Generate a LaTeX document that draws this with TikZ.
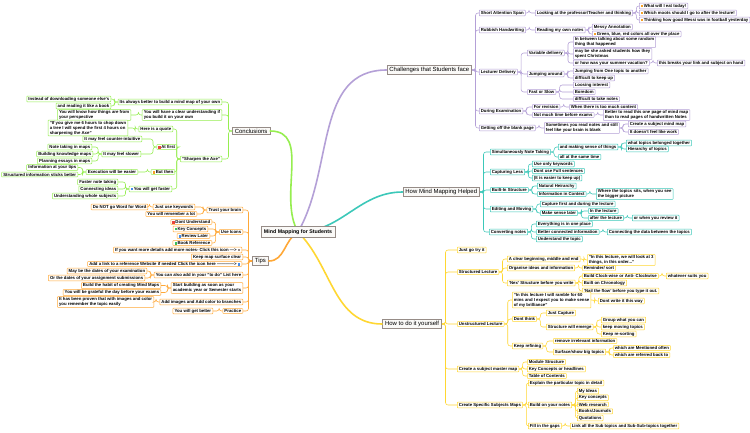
\documentclass[tikz,border=0pt]{standalone}
\usepackage{fontspec}
\setmainfont{Liberation Sans}
\definecolor{purp}{RGB}{180,160,215}
\definecolor{teal2}{RGB}{60,200,185}
\definecolor{yell}{RGB}{255,215,50}
\definecolor{gren}{RGB}{150,238,80}
\definecolor{orng}{RGB}{255,168,55}
\definecolor{mainc}{RGB}{150,140,135}
\definecolor{mainf}{RGB}{250,249,247}
\definecolor{icored}{RGB}{235,70,60}
\definecolor{icoorg}{RGB}{245,160,40}
\definecolor{icoblu}{RGB}{70,140,230}
\definecolor{icogrn}{RGB}{60,190,90}
\newcommand\lc{purp}
\newcommand\ico[1]{\textcolor{#1}{\rule{2.3pt}{2.3pt}}\hspace{0.7pt}}
\newcommand\rlink[2]{\draw[branch] (#1.east) -- ++(3.5,0) |- (#2.west);}
\newcommand\llink[2]{\draw[branch] (#1.west) -- ++(-3.5,0) |- (#2.east);}
\tikzset{
  topic/.style={draw=\lc, fill=white, line width=0.5pt, inner xsep=1.6pt, inner ysep=0.9pt,
    font=\bfseries\fontsize{4.3}{5.1}\selectfont, align=left, rounded corners=0.6pt},
  rb/.style={topic, anchor=west},
  lb/.style={topic, anchor=east},
  maintopic/.style={draw=mainc, fill=mainf, line width=0.7pt, inner xsep=2.5pt, inner ysep=1.4pt,
    font=\fontsize{6}{7}\selectfont},
  central/.style={draw=mainc, fill=mainf, line width=0.8pt, inner xsep=3pt, inner ysep=3pt,
    font=\bfseries\fontsize{5.3}{6}\selectfont},
  branch/.style={draw=\lc, line width=0.55pt, rounded corners=2.5pt},
  mainbranch/.style={line width=1.6pt, line cap=round}
}
\begin{document}
\begin{tikzpicture}[x=1bp,y=-1bp]
\fill[white] (0,0) rectangle (750,432);
\useasboundingbox (0,0) rectangle (750,432);
\coordinate (cc) at (298,232);
\node[maintopic,anchor=east] (ch) at (472,70) {Challenges that Students face};
\node[maintopic,anchor=east] (hp) at (480,192) {How Mind Mapping Helped};
\node[maintopic,anchor=east] (dy) at (442,324) {How to do it yourself};
\node[maintopic,anchor=west] (cn) at (232,131) {Conclusions};
\node[maintopic,anchor=west] (tp) at (252,261) {Tips};
\draw[mainbranch,draw=purp] (cc) to[out=60,in=180] (ch.west);
\draw[mainbranch,draw=teal2] (cc) to[out=0,in=180] (hp.west);
\draw[mainbranch,draw=yell] (cc) to[out=-45,in=180] (dy.west);
\draw[mainbranch,draw=gren] (cc) to[out=120,in=0] (cn.east);
\draw[mainbranch,draw=orng] (cc) to[out=-150,in=0] (tp.east);
\node[central] (c) at (cc) {Mind Mapping for Students};

% challenges
\renewcommand\lc{purp}
\node[rb] (ch1) at (479,13) {Short Attention Span};
\node[rb] (ch1a) at (535,13) {Looking at the professor/Teacher and thinking};
\node[rb] (ch1a1) at (639,6) {\ico{icoorg}What will I eat today!};
\node[rb] (ch1a2) at (639,13) {\ico{icoorg}Which moots should I go to after the lecture!};
\node[rb] (ch1a3) at (639,20) {\ico{icoorg}Thinking how good Messi was in football yesterday};
\node[rb] (ch2) at (479,30) {Rubbish Handwriting};
\node[rb] (ch2a) at (535,30) {Reading my own notes};
\node[rb] (ch2a1) at (592,27) {Messy Annotation};
\node[rb] (ch2a2) at (592,34) {\ico{icoorg}Green, blue, red colors all over the place};
\node[rb] (ch3) at (479,72) {Lecturer Delivery};
\node[rb] (ch3a) at (527,53) {Variable delivery};
\node[rb] (ch3a1) at (573,42) {In between talking about some random\\thing that happened};
\node[rb] (ch3a2) at (573,54) {may be she asked students how they\\spent Christmas};
\node[rb] (ch3a3) at (573,63) {or how was your summer vacation?};
\node[rb] (ch3a3a) at (657,63) {this breaks your link and subject on hand};
\node[rb] (ch3b) at (527,74) {Jumping around};
\node[rb] (ch3b1) at (573,71) {Jumping from One topic to another};
\node[rb] (ch3b2) at (573,78) {difficult to keep up};
\node[rb] (ch3c) at (527,92) {Fast or Slow};
\node[rb] (ch3c1) at (573,85) {Loosing interest};
\node[rb] (ch3c2) at (573,92) {Boredom};
\node[rb] (ch3c3) at (573,99) {difficult to take notes};
\node[rb] (ch4) at (479,111) {During Examination};
\node[rb] (ch4a) at (532,107) {For revision};
\node[rb] (ch4a1) at (569,107) {When there is too much content};
\node[rb] (ch4b) at (532,115) {Not much time before exams};
\node[rb] (ch4b1) at (603,115) {Better to read this one page of mind map\\than to read pages of handwritten Notes};
\node[rb] (ch5) at (479,128) {Getting off the blank page};
\node[rb] (ch5a) at (544,128) {Sometimes you read notes and still\\feel like your brain is blank};
\node[rb] (ch5a1) at (628,124) {Create a subject mind map};
\node[rb] (ch5a2) at (628,132) {It doesn't feel like work};
\foreach \k in {ch1,ch2,ch3,ch4,ch5} \rlink{ch}{\k};
\rlink{ch1}{ch1a}
\foreach \k in {ch1a1,ch1a2,ch1a3} \rlink{ch1a}{\k};
\rlink{ch2}{ch2a}
\foreach \k in {ch2a1,ch2a2} \rlink{ch2a}{\k};
\foreach \k in {ch3a,ch3b,ch3c} \rlink{ch3}{\k};
\foreach \k in {ch3a1,ch3a2,ch3a3} \rlink{ch3a}{\k};
\rlink{ch3a3}{ch3a3a}
\foreach \k in {ch3b1,ch3b2} \rlink{ch3b}{\k};
\foreach \k in {ch3c1,ch3c2,ch3c3} \rlink{ch3c}{\k};
\foreach \k in {ch4a,ch4b} \rlink{ch4}{\k};
\rlink{ch4a}{ch4a1}
\rlink{ch4b}{ch4b1}
\rlink{ch5}{ch5a}
\foreach \k in {ch5a1,ch5a2} \rlink{ch5a}{\k};

% how it helped
\renewcommand\lc{teal2}
\node[rb] (hp1) at (490,152) {Simultaneously Note Taking};
\node[rb] (hp1a) at (558,147) {and making sense of things};
\node[rb] (hp1a1) at (626,143) {what topics belonged together};
\node[rb] (hp1a2) at (626,149) {Hierarchy of topics};
\node[rb] (hp1b) at (558,157) {all at the same time};
\node[rb] (hp2) at (490,172) {Capturing Less};
\node[rb] (hp2a) at (532,164) {Use only keywords};
\node[rb] (hp2b) at (532,171) {Dont use Full sentences};
\node[rb] (hp2c) at (532,178) {(It is easier to keep up)};
\node[rb] (hp3) at (490,190) {Built-In Structure};
\node[rb] (hp3a) at (537,186) {Natural Heirarchy};
\node[rb] (hp3b) at (537,194) {Information in Context};
\node[rb] (hp3b1) at (596,194) {Where the topics sits, when you see\\the bigger picture};
\node[rb] (hp4) at (490,209) {Editing and Moving};
\node[rb] (hp4a) at (540,204) {Capture first and during the lecture};
\node[rb] (hp4b) at (540,213) {Make sense later};
\node[rb] (hp4b1) at (588,211) {In the lecture};
\node[rb] (hp4b2) at (588,218) {after the lecture};
\node[rb] (hp4b2a) at (632,218) {or when you review it};
\node[rb] (hp5) at (489,232) {Converting notes};
\node[rb] (hp5a) at (536,224) {Everything is in one place};
\node[rb] (hp5b) at (536,232) {Better connected information};
\node[rb] (hp5b1) at (607,232) {Connecting the data between the topics};
\node[rb] (hp5c) at (536,239) {Understand the topic};
\foreach \k in {hp1,hp2,hp3,hp4,hp5} \rlink{hp}{\k};
\foreach \k in {hp1a,hp1b} \rlink{hp1}{\k};
\foreach \k in {hp1a1,hp1a2} \rlink{hp1a}{\k};
\foreach \k in {hp2a,hp2b,hp2c} \rlink{hp2}{\k};
\foreach \k in {hp3a,hp3b} \rlink{hp3}{\k};
\rlink{hp3b}{hp3b1}
\foreach \k in {hp4a,hp4b} \rlink{hp4}{\k};
\foreach \k in {hp4b1,hp4b2} \rlink{hp4b}{\k};
\rlink{hp4b2}{hp4b2a}
\foreach \k in {hp5a,hp5b,hp5c} \rlink{hp5}{\k};
\rlink{hp5b}{hp5b1}

% do it yourself
\renewcommand\lc{yell}
\node[rb] (dy1) at (457,250) {Just go try it};
\node[rb] (dy2) at (457,272) {Structured Lecture};
\node[rb] (dy2a) at (507,259) {A clear beginning, middle and end};
\node[rb] (dy2a1) at (587,260) {"In this lecture, we will look at 3\\things, in this order..."};
\node[rb] (dy2b) at (507,268) {Organise ideas and information};
\node[rb] (dy2b1) at (582,268) {Reminder/ sort};
\node[rb] (dy2c) at (507,283) {'Nex' Structure before you write};
\node[rb] (dy2c1) at (582,276) {Build Clock-wise or Anti- Clockwise};
\node[rb] (dy2c1a) at (666,276) {whatever suits you};
\node[rb] (dy2c2) at (582,283) {Built on Chronology};
\node[rb] (dy2c3) at (582,291) {'Nail the flow' before you type it out.};
\node[rb] (dy3) at (457,324) {Unstructured Lecture};
\node[rb] (dy3a) at (512,300) {"In this lecture I will ramble for 60\\mins and I expect you to make sense\\of my brilliance"};
\node[rb] (dy3a1) at (598,301) {Dont write it this way};
\node[rb] (dy3b) at (512,319) {Dont think};
\node[rb] (dy3b1) at (546,313) {Just Capture};
\node[rb] (dy3b2) at (546,327) {Structure will emerge};
\node[rb] (dy3b2a) at (601,320) {Group what you can};
\node[rb] (dy3b2b) at (601,327) {keep moving topics};
\node[rb] (dy3b2c) at (601,334) {Keep re-sorting};
\node[rb] (dy3c) at (512,346) {Keep refining};
\node[rb] (dy3c1) at (553,341) {remove irrelevant information};
\node[rb] (dy3c2) at (553,352) {Surface/show big topics};
\node[rb] (dy3c2a) at (613,348) {which are Mentioned often};
\node[rb] (dy3c2b) at (613,355) {which are referred back to};
\node[rb] (dy4) at (457,369) {Create a subject master map};
\node[rb] (dy4a) at (527,362) {Module Structure};
\node[rb] (dy4b) at (527,369) {Key Concepts or headlines};
\node[rb] (dy4c) at (527,376) {Table of Contents};
\node[rb] (dy5) at (457,405) {Create Specific Subjects Maps};
\node[rb] (dy5a) at (528,383) {Explain the particular topic in detail};
\node[rb] (dy5b) at (528,405) {Build on your notes};
\node[rb] (dy5b1) at (577,391) {My Ideas};
\node[rb] (dy5b2) at (577,397.75) {Key concepts};
\node[rb] (dy5b3) at (577,404.5) {Web research};
\node[rb] (dy5b4) at (577,411.25) {Books/Journals};
\node[rb] (dy5b5) at (577,418) {Quotations};
\node[rb] (dy5c) at (528,426) {Fill in the gaps};
\node[rb] (dy5c1) at (570,426) {Link all the Sub topics and Sub-Sub-topics together};
\foreach \k in {dy1,dy2,dy3,dy4,dy5} \rlink{dy}{\k};
\foreach \k in {dy2a,dy2b,dy2c} \rlink{dy2}{\k};
\rlink{dy2a}{dy2a1}
\rlink{dy2b}{dy2b1}
\foreach \k in {dy2c1,dy2c2,dy2c3} \rlink{dy2c}{\k};
\rlink{dy2c1}{dy2c1a}
\foreach \k in {dy3a,dy3b,dy3c} \rlink{dy3}{\k};
\rlink{dy3a}{dy3a1}
\foreach \k in {dy3b1,dy3b2} \rlink{dy3b}{\k};
\foreach \k in {dy3b2a,dy3b2b,dy3b2c} \rlink{dy3b2}{\k};
\foreach \k in {dy3c1,dy3c2} \rlink{dy3c}{\k};
\foreach \k in {dy3c2a,dy3c2b} \rlink{dy3c2}{\k};
\foreach \k in {dy4a,dy4b,dy4c} \rlink{dy4}{\k};
\foreach \k in {dy5a,dy5b,dy5c} \rlink{dy5}{\k};
\foreach \k in {dy5b1,dy5b2,dy5b3,dy5b4,dy5b5} \rlink{dy5b}{\k};
\rlink{dy5c}{dy5c1}

% conclusions
\renewcommand\lc{gren}
\node[lb] (cn1) at (222,102) {Its always better to build a mind map of your own};
\node[lb] (cn1a) at (111,99) {Instead of downloading someone else's};
\node[lb] (cn1b) at (111,106) {and reading it like a book};
\node[lb] (cn2) at (222,115) {You will have a clear understanding if\\you build it on your own};
\node[lb] (cn2a) at (131,115) {You will know how things are from\\your perspective};
\node[lb] (cn3) at (222,159) {"Sharpen the Axe"};
\node[lb] (cn3a) at (173,129) {Here is a quote};
\node[lb] (cn3a1) at (128,128) {"If you give me 6 hours to chop down\\a tree I will spend the first 4 hours on\\sharpening the Axe"};
\node[lb] (cn3b) at (177,147) {\ico{icored}At first};
\node[lb] (cn3b1) at (142,139) {It may feel counter-intuitive};
\node[lb] (cn3b2) at (141,154) {It may feel slower};
\node[lb] (cn3b2a) at (92,147) {Note taking in maps};
\node[lb] (cn3b2b) at (93,154) {Building knowledge maps};
\node[lb] (cn3b2c) at (92,161) {Planning essays in maps};
\node[lb] (cn3c) at (175,172) {\ico{icoorg}But then};
\node[lb] (cn3c1) at (138,172) {Execution will be easier};
\node[lb] (cn3c1a) at (78,167.5) {Information at your tips};
\node[lb] (cn3c1b) at (78,174.5) {Structured information sticks better};
\node[lb] (cn3d) at (172,189) {\ico{icoblu}You will get faster};
\node[lb] (cn3d1) at (118,182) {Faster note taking};
\node[lb] (cn3d2) at (118,189) {Connecting ideas};
\node[lb] (cn3d3) at (118,196) {Understanding whole subjects};
\foreach \k in {cn1,cn2,cn3} \llink{cn}{\k};
\foreach \k in {cn1a,cn1b} \llink{cn1}{\k};
\llink{cn2}{cn2a}
\foreach \k in {cn3a,cn3b,cn3c,cn3d} \llink{cn3}{\k};
\llink{cn3a}{cn3a1}
\foreach \k in {cn3b1,cn3b2} \llink{cn3b}{\k};
\foreach \k in {cn3b2a,cn3b2b,cn3b2c} \llink{cn3b2}{\k};
\llink{cn3c}{cn3c1}
\foreach \k in {cn3c1a,cn3c1b} \llink{cn3c1}{\k};
\foreach \k in {cn3d1,cn3d2,cn3d3} \llink{cn3d}{\k};

% tips
\renewcommand\lc{orng}
\node[lb] (tp1) at (243,210) {Trust your brain};
\node[lb] (tp1a) at (195,207) {Just use keywords};
\node[lb] (tp1a1) at (148,207) {Do NOT go Word for Word};
\node[lb] (tp1b) at (197,214) {You will remember a lot};
\node[lb] (tp2) at (243,232) {Use Icons};
\node[lb] (tp2a) at (212,222) {\ico{icored}Dont Understand};
\node[lb] (tp2b) at (208,229) {\ico{icogrn}Key Concepts};
\node[lb] (tp2c) at (210,236) {\ico{icoblu}Review Later};
\node[lb] (tp2d) at (212,243) {\ico{icogrn}Book Reference};
\node[lb] (tp3) at (242,250) {If you want more details add more notes- Click this icon ---> \textcolor{mainc}{\rule{2.3pt}{2.3pt}}};
\node[lb] (tp4) at (243,257) {Keep map surface clear};
\node[lb] (tp5) at (242,264) {Add a link to a reference Website if needed Click the icon here ------------> \textcolor{icoblu}{\rule{2.3pt}{2.3pt}}};
\node[lb] (tp6) at (243,275) {You can also add in your "to do" List here};
\node[lb] (tp6a) at (147,271) {May be the dates of your examination};
\node[lb] (tp6b) at (145,278) {Or the dates of your assignment submissions};
\node[lb] (tp7) at (243,288) {Start building as soon as your\\academic year or Semester starts};
\node[lb] (tp7a) at (161,285.5) {Build the habit of creating Mind Maps};
\node[lb] (tp7b) at (161,292.5) {You will be grateful the day before your exams};
\node[lb] (tp8) at (243,302) {Add images and Add color to branches};
\node[lb] (tp8a) at (154,302) {It has been proven that with images and color\\you remember the topic easily};
\node[lb] (tp9) at (243,311) {Practice};
\node[lb] (tp9a) at (213,311) {You will get better};
\foreach \k in {tp1,tp2,tp3,tp4,tp5,tp6,tp7,tp8,tp9} \llink{tp}{\k};
\foreach \k in {tp1a,tp1b} \llink{tp1}{\k};
\llink{tp1a}{tp1a1}
\foreach \k in {tp2a,tp2b,tp2c,tp2d} \llink{tp2}{\k};
\foreach \k in {tp6a,tp6b} \llink{tp6}{\k};
\foreach \k in {tp7a,tp7b} \llink{tp7}{\k};
\llink{tp8}{tp8a}
\llink{tp9}{tp9a}
\end{tikzpicture}
\end{document}
